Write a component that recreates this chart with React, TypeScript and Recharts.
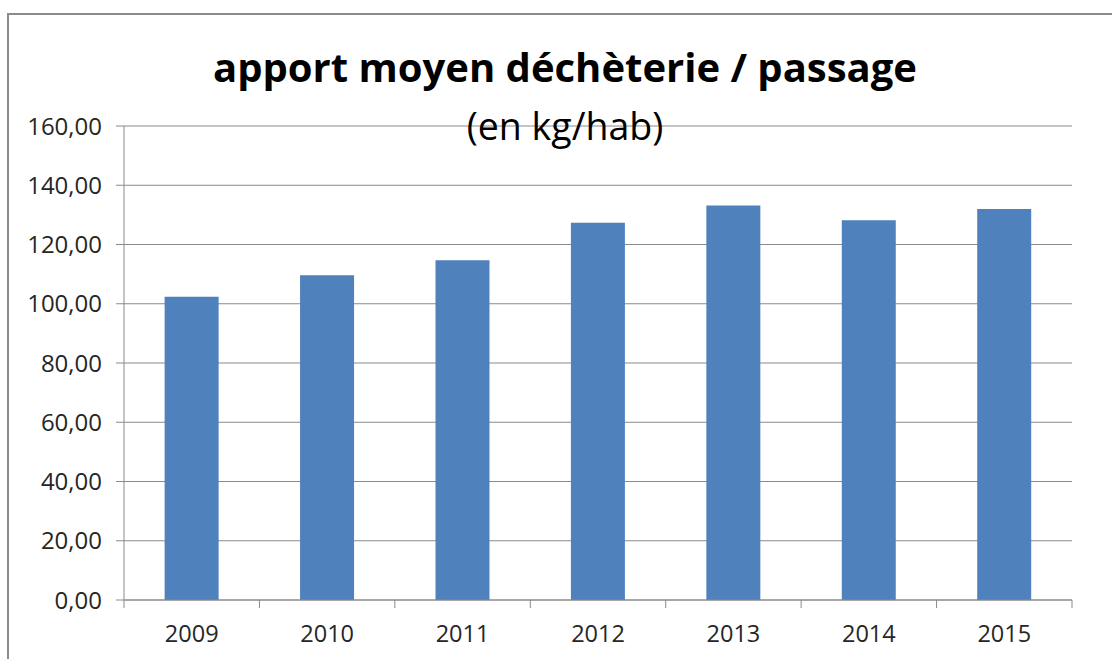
import React from 'react';
import { BarChart, Bar, XAxis, YAxis, CartesianGrid } from 'recharts';

const years = ['2009', '2010', '2011', '2012', '2013', '2014', '2015'];
const values = [102.4, 109.6, 114.7, 127.3, 133.2, 128.2, 132.0];
const yTicks = [0, 20, 40, 60, 80, 100, 120, 140, 160];
const title = 'apport moyen déchèterie / passage';
const subtitle = '(en kg/hab)';

const data = years.map((y, i) => ({ year: y, value: values[i] }));

const fmt = (v: number) => v.toFixed(2).replace('.', ',');

const FONT = '"Open Sans", sans-serif';
const GRID = '#8a8a8a';

const XTick = (props: any) => {
  const { x, y, payload, index, visibleTicksCount, width } = props;
  const n = visibleTicksCount || years.length;
  const bw = width / n;
  return (
    <g>
      <line x1={x - bw / 2} x2={x - bw / 2} y1={y} y2={y + 8} stroke={GRID} strokeWidth={1} />
      {index === n - 1 && (
        <line x1={x + bw / 2} x2={x + bw / 2} y1={y} y2={y + 8} stroke={GRID} strokeWidth={1} />
      )}
      <text x={x} y={y + 42} textAnchor="middle" fill="#262626" fontSize={23.5} fontFamily={FONT}>
        {payload.value}
      </text>
    </g>
  );
};

export default function App() {
  return (
    <div style={{ position: 'absolute', left: 0, top: 0, width: 1112, height: 659, overflow: 'hidden', background: '#fff' }}>
      <div style={{ position: 'absolute', left: 7, top: 13, width: 1300, height: 900, border: '2px solid #8c8c8c', boxSizing: 'border-box' }} />
      <div style={{ position: 'absolute', left: 0, top: 0 }}>
        <BarChart width={1112} height={659} data={data} margin={{ top: 126, right: 40, bottom: 0, left: 0 }} barCategoryGap="30%">
          <CartesianGrid vertical={false} stroke={GRID} strokeDasharray="" />
          <XAxis
            dataKey="year"
            stroke={GRID}
            tickLine={false}
            tickSize={0}
            tickMargin={0}
            interval={0}
            tick={<XTick />}
            height={59}
          />
          <YAxis
            domain={[0, 160]}
            ticks={yTicks}
            tickFormatter={fmt}
            width={124}
            stroke={GRID}
            tickSize={8}
            tickMargin={14}
            tick={{ fill: '#262626', fontSize: 24, fontFamily: FONT }}
            interval={0}
          />
          <Bar dataKey="value" fill="#4F81BD" isAnimationActive={false} />
        </BarChart>
      </div>
      <svg width={1112} height={659} style={{ position: 'absolute', left: 0, top: 0, pointerEvents: 'none' }}>
        <text x={565} y={82} textAnchor="middle" fontFamily={FONT} fontWeight="bold" fontSize={40} fill="#000">
          {title}
        </text>
        <text x={565} y={140} textAnchor="middle" fontFamily={FONT} fontSize={37.5} fill="#000">
          {subtitle}
        </text>
      </svg>
    </div>
  );
}
